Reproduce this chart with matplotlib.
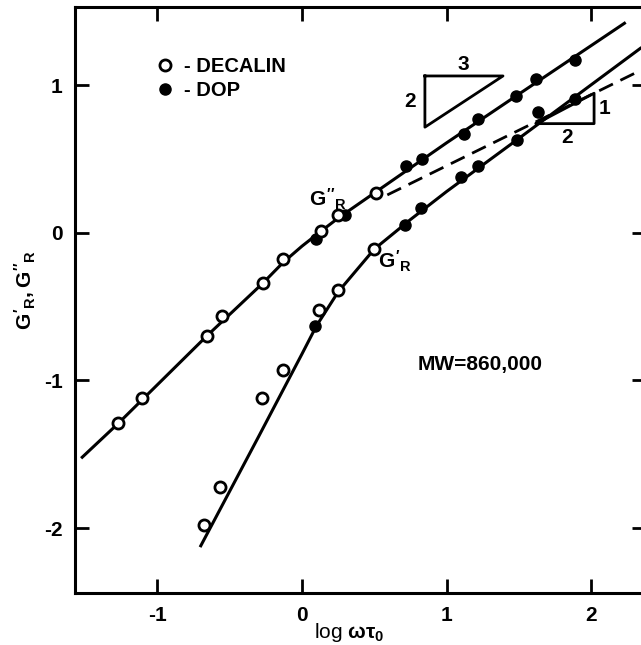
import matplotlib
matplotlib.use("Agg")
import matplotlib.pyplot as plt
from matplotlib.lines import Line2D

# reduced moduli (log units)
decalin_gpp_x = [-1.27, -1.11, -0.66, -0.55, -0.27, -0.13, 0.13, 0.25, 0.51]
decalin_gpp_y = [-1.29, -1.12, -0.70, -0.56, -0.34, -0.18, 0.01, 0.12, 0.27]
decalin_gp_x = [-0.68, -0.57, -0.28, -0.13, 0.12, 0.25, 0.50]
decalin_gp_y = [-1.98, -1.72, -1.12, -0.93, -0.52, -0.39, -0.11]
dop_gpp_x = [0.10, 0.30, 0.72, 0.83, 1.12, 1.22, 1.48, 1.62, 1.89]
dop_gpp_y = [-0.04, 0.12, 0.45, 0.50, 0.67, 0.77, 0.93, 1.04, 1.17]
dop_gp_x = [0.09, 0.71, 0.82, 1.10, 1.22, 1.49, 1.63, 1.89]
dop_gp_y = [-0.63, 0.05, 0.17, 0.38, 0.45, 0.63, 0.82, 0.91]

# theory curves (points along the drawn lines)
curve_gpp_x = [-1.52, -1.27, -0.66, -0.27, -0.13, 0.0, 0.13, 0.25, 0.50, 1.0, 1.5, 2.23]
curve_gpp_y = [-1.52, -1.29, -0.70, -0.34, -0.20, -0.09, 0.01, 0.10, 0.27, 0.61, 0.94, 1.42]
curve_gp_x = [-0.70, -0.30, 0.0, 0.10, 0.25, 0.50, 0.75, 1.0, 1.5, 2.34]
curve_gp_y = [-2.12, -1.38, -0.82, -0.63, -0.40, -0.11, 0.09, 0.28, 0.64, 1.25]
dash_x = [0.59, 2.34]
dash_y = [0.257, 1.10]

# slope triangles
tri32_x = [0.85, 1.39, 0.85, 0.85]
tri32_y = [1.063, 1.063, 0.716, 1.063]
tri12_x = [1.62, 2.02, 2.02, 1.62]
tri12_y = [0.74, 0.74, 0.946, 0.74]

plt.rcParams["font.family"] = ["Liberation Sans", "DejaVu Sans"]
plt.rcParams["font.weight"] = "bold"
plt.rcParams["axes.unicode_minus"] = False
plt.rcParams["mathtext.fontset"] = "custom"
plt.rcParams["mathtext.rm"] = "Liberation Sans:bold"
plt.rcParams["mathtext.it"] = "Liberation Sans:bold"
plt.rcParams["mathtext.bf"] = "Liberation Sans:bold"

fig = plt.figure(figsize=(6.41, 6.45), dpi=100)
ax = fig.add_axes([0.117, 0.0806, 0.891, 0.9085])

lw = 2.2
ax.plot(curve_gpp_x, curve_gpp_y, color="black", lw=lw, zorder=2)
ax.plot(curve_gp_x, curve_gp_y, color="black", lw=lw, zorder=2)
ax.plot(dash_x, dash_y, color="black", lw=2, dashes=(5.5, 3), zorder=2)
ax.plot(tri32_x, tri32_y, color="black", lw=2, zorder=2)
ax.plot(tri12_x, tri12_y, color="black", lw=2, zorder=2)

ms = 8
ax.plot(dop_gpp_x, dop_gpp_y, "o", color="black", ms=ms, zorder=3)
ax.plot(dop_gp_x, dop_gp_y, "o", color="black", ms=ms, zorder=3)
ax.plot(decalin_gpp_x, decalin_gpp_y, "o", mfc="white", mec="black", mew=2, ms=ms, zorder=4)
ax.plot(decalin_gp_x, decalin_gp_y, "o", mfc="white", mec="black", mew=2, ms=ms, zorder=4)

ax.text(1.115, 1.075, "3", fontsize=15, ha="center", va="bottom")
ax.text(0.79, 0.889, "2", fontsize=15, ha="right", va="center")
ax.text(2.05, 0.84, "1", fontsize=15, ha="left", va="center")
ax.text(1.83, 0.71, "2", fontsize=15, ha="center", va="top")

ax.text(0.18, 0.23, "$G''_R$", fontsize=15, ha="center", va="center")
ax.text(0.64, -0.19, "$G'_R$", fontsize=15, ha="center", va="center")
ax.text(1.23, -0.89, "MW=860,000", fontsize=15, ha="center", va="center")

handles = [
    Line2D([], [], ls="none", marker="o", mfc="white", mec="black", mew=2, ms=ms),
    Line2D([], [], ls="none", marker="o", color="black", ms=ms),
]
ax.legend(handles, ["- DECALIN", "- DOP"], loc="upper left",
          bbox_to_anchor=(0.14, 0.915), frameon=False, fontsize=14.5,
          handlelength=1.0, handletextpad=0.45, labelspacing=0.25,
          borderpad=0, borderaxespad=0)

ax.set_xlim(-1.57, 2.38)
ax.set_ylim(-2.44, 1.53)
ax.set_xticks([-1, 0, 1, 2])
ax.set_yticks([-2, -1, 0, 1])
ax.tick_params(direction="in", length=10, width=2, top=True, right=True,
               labelsize=15, pad=9)
for s in ax.spines.values():
    s.set_linewidth(2.2)

ax.set_xlabel(r"log $\omega\tau_0$", fontsize=15)
ax.xaxis.set_label_coords(0.48, -0.048)
ax.set_ylabel(r"$G'_R, G''_R$", fontsize=15)
ax.yaxis.set_label_coords(-0.065, 0.517)

fig.savefig("out.png", dpi=100)
